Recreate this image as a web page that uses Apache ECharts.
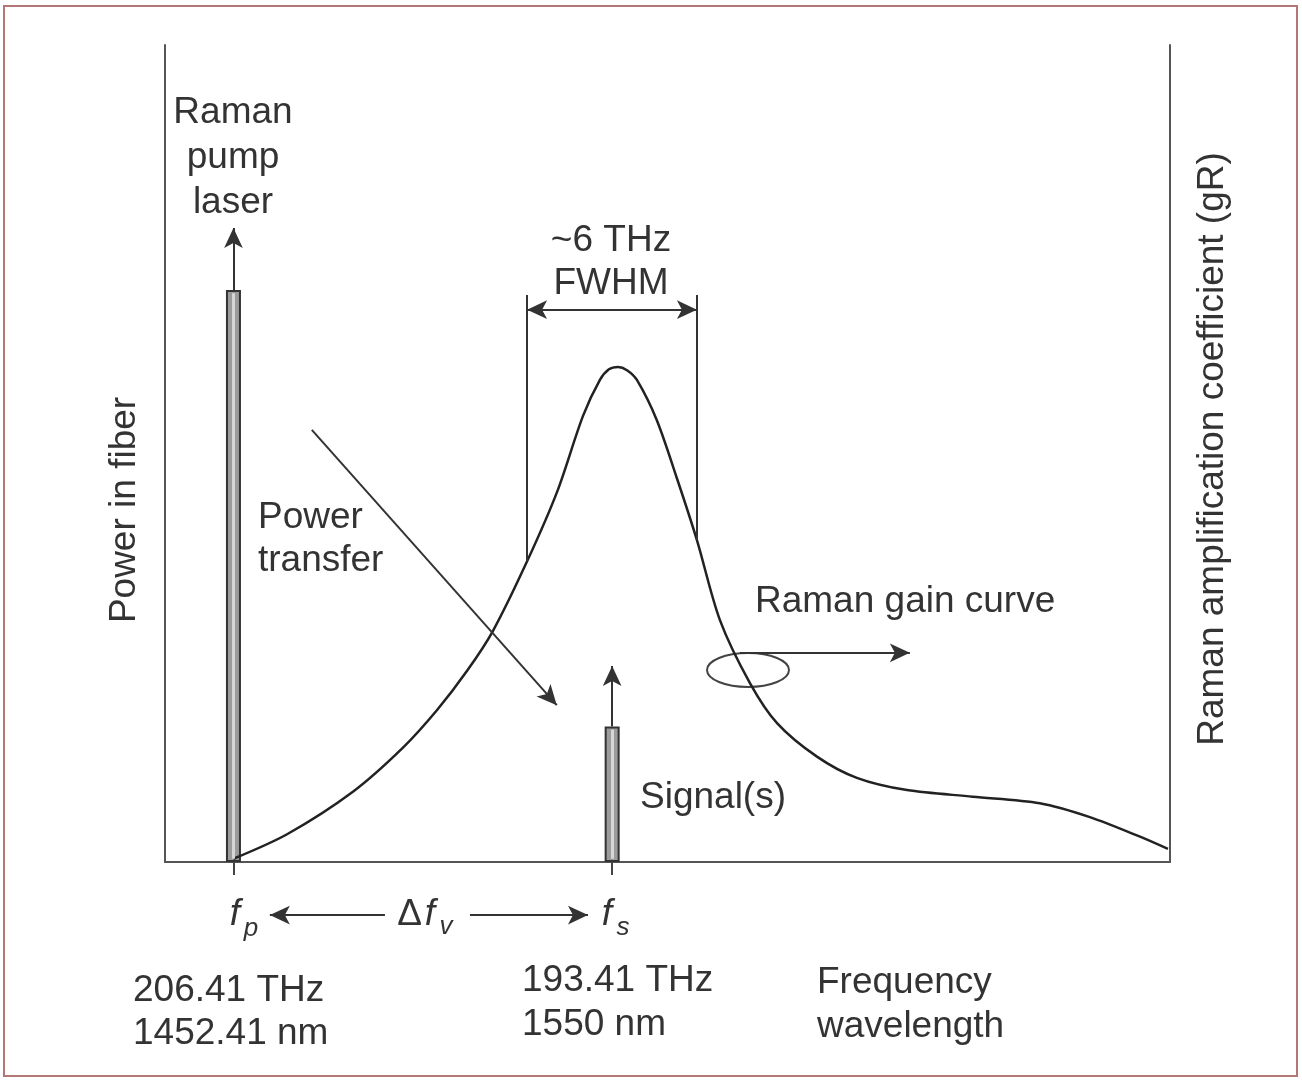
<!DOCTYPE html>
<html lang="en">
<head>
    <meta charset="UTF-8">
    <title>Raman gain</title>
    <script src="https://cdn.jsdelivr.net/npm/echarts@6/dist/echarts.min.js"></script>
    <style>
        *{
            margin: 0;
            padding: 0;
        }
        body,html{
            width: 100%;
            height: 100%;
            overflow: hidden;
            background: #fff;
        }
        .box{
            width: 1302px;
            height: 1080px;
        }
    </style>
</head>
<body>
<div class="box"></div>
<script>
    // frequency shift from the pump (THz) and gain level (arbitrary units)
    const gainShift = [0, 1.84, 4.10, 5.82, 6.99, 8.02, 8.91, 10.08, 11.11, 12.0, 12.58, 12.89, 13.2, 13.51, 13.85,
        14.53, 15.22, 15.91, 16.70, 17.73, 18.66, 20.03, 21.40, 23.12, 25.38, 27.68, 29.40, 31.12, 32.08];
    const gainLevel = [0.4, 3.4, 8.6, 14.0, 18.6, 23.4, 28.3, 36.8, 45.3, 54.6, 59.0, 60.3, 60.6, 60.2, 59.0,
        54.1, 47.0, 39.4, 29.6, 21.9, 17.0, 12.9, 10.3, 8.8, 8.0, 7.2, 5.5, 3.1, 1.6];

    // pump and signal lines
    const lineShift = [0, 13];
    const linePower = [70, 16.6];
    const arrowTip = [77.6, 24.0];

    // FWHM markers
    const fwhmShift = [10.08, 15.91];
    const fwhmFoot = [36.8, 39.4];
    const fwhmTop = 69.4;
    const fwhmArrow = 67.6;

    // other arrows: [from, to]
    const transferArrow = [[2.69, 52.9], [11.1, 19.2]];
    const gainPointer = [[17.39, 25.6], [23.22, 25.6]];
    // below the axis (lower strip, depth in the same units)
    const deltaArrows = [[[5.2, -6.5], [1.25, -6.5]], [[8.12, -6.5], [12.17, -6.5]]];

    const font = '"Liberation Sans", Arial, Helvetica, sans-serif';
    const ink = '#333';

    let myChart = echarts.init(document.querySelector('.box'));

    let curve = gainShift.map((x, i) => [x, gainLevel[i]]);
    let bars = lineShift.map((x, i) => [x, linePower[i]]);

    function seg(a, b, s1, s2) {
        return [
            {coord: a, symbol: s1 || 'none'},
            {coord: b, symbol: s2 || 'arrow'}
        ];
    }

    let arrows = [];
    lineShift.forEach((x, i) => arrows.push(seg([x, linePower[i]], [x, arrowTip[i]])));
    arrows.push(seg(transferArrow[0], transferArrow[1]));
    arrows.push(seg(gainPointer[0], gainPointer[1]));
    arrows.push(seg([fwhmShift[0], fwhmArrow], [fwhmShift[1], fwhmArrow], 'arrow', 'arrow'));
    fwhmShift.forEach((x, i) => arrows.push(seg([x, fwhmTop], [x, fwhmFoot[i]], 'none', 'none')));

    let lowArrows = deltaArrows.map(a => seg(a[0], a[1]));

    // light stripe down the middle of each bar
    let stripes = lineShift.map((x, i) => seg([x, 0.4], [x, linePower[i] - 0.4], 'none', 'none'));

    function txt(x, y, text, opt) {
        return Object.assign({
            type: 'text', x: x, y: y, silent: true,
            style: Object.assign({
                text: text, fill: ink, font: '37px ' + font,
                textAlign: 'left', textVerticalAlign: 'middle', lineHeight: 44
            }, opt && opt.style)
        }, opt && opt.el);
    }
    const ital = 'italic 37px ' + font;
    const sub = 'italic 26px ' + font;

    const axisLine = {show: true, onZero: false, lineStyle: {color: '#555', width: 2}};
    const arrowLine = {color: '#333', width: 2, type: 'solid'};

    let option = {
        backgroundColor: '#fff',
        animation: false,
        grid: [
            {left: 165, right: 132, top: 45, bottom: 218},
            {left: 165, right: 132, top: 862, bottom: 0}
        ],
        xAxis: [{
            type: 'value', min: -2.35, max: 32.15, gridIndex: 0,
            axisLine: axisLine,
            axisTick: {show: true, customValues: lineShift, length: 13, lineStyle: {color: '#444', width: 2}},
            axisLabel: {show: false},
            splitLine: {show: false}
        }, {
            type: 'value', min: -2.35, max: 32.15, gridIndex: 1, show: false
        }],
        yAxis: [{
            type: 'value', min: 0, max: 100, position: 'left', gridIndex: 0,
            axisLine: axisLine,
            axisTick: {show: false}, axisLabel: {show: false}, splitLine: {show: false}
        }, {
            type: 'value', min: 0, max: 100, position: 'right', gridIndex: 0,
            axisLine: axisLine,
            axisTick: {show: false}, axisLabel: {show: false}, splitLine: {show: false}
        }, {
            type: 'value', min: -26.68, max: 0, gridIndex: 1, show: false
        }],
        series: [{
            name: 'lines',
            type: 'bar',
            data: bars,
            barWidth: 15,
            itemStyle: {color: '#9b9b9b', borderColor: '#333', borderWidth: 2},
            silent: true
        }, {
            name: 'stripes',
            type: 'line',
            data: [],
            clip: false,
            markLine: {
                silent: true, animation: false,
                label: {show: false},
                lineStyle: {color: '#d6d6d6', width: 3, type: 'solid'},
                data: stripes
            }
        }, {
            name: 'Raman gain curve',
            type: 'line',
            data: curve,
            smooth: 0.3,
            symbol: 'none',
            lineStyle: {color: '#222', width: 2.5},
            silent: true,
            z: 3
        }, {
            name: 'arrows',
            type: 'line',
            data: [],
            clip: false,
            markLine: {
                silent: true, animation: false,
                symbolSize: [14, 20],
                label: {show: false},
                lineStyle: arrowLine,
                emphasis: {disabled: true},
                data: arrows
            }
        }, {
            name: 'delta',
            type: 'line',
            xAxisIndex: 1,
            yAxisIndex: 2,
            data: [],
            clip: false,
            markLine: {
                silent: true, animation: false,
                symbolSize: [14, 20],
                label: {show: false},
                lineStyle: arrowLine,
                emphasis: {disabled: true},
                data: lowArrows
            }
        }],
        graphic: [
            {
                type: 'rect', silent: true,
                shape: {x: 4, y: 6, width: 1293, height: 1070},
                style: {fill: 'none', stroke: '#b27878', lineWidth: 2}
            },
            {
                type: 'ellipse', silent: true,
                shape: {cx: 748, cy: 670, rx: 41, ry: 17},
                style: {fill: 'none', stroke: '#444', lineWidth: 2}
            },
            txt(233, 158, 'Raman\npump\nlaser', {style: {textAlign: 'center', lineHeight: 45}}),
            txt(611, 262, '~6 THz\nFWHM', {style: {textAlign: 'center', lineHeight: 43}}),
            txt(258, 539, 'Power\ntransfer', {style: {lineHeight: 43}}),
            txt(755, 602, 'Raman gain curve'),
            txt(640, 798, 'Signal(s)'),
            txt(235, 915, 'f', {style: {textAlign: 'center', font: ital}}),
            txt(251, 929, 'p', {style: {textAlign: 'center', font: sub}}),
            txt(422, 915, 'Δ', {style: {textAlign: 'right'}}),
            txt(430, 915, 'f', {style: {textAlign: 'center', font: ital}}),
            txt(446, 927, 'v', {style: {textAlign: 'center', font: sub}}),
            txt(607, 915, 'f', {style: {textAlign: 'center', font: ital}}),
            txt(623, 928, 's', {style: {textAlign: 'center', font: sub}}),
            txt(133, 1012, '206.41 THz\n1452.41 nm', {style: {lineHeight: 43}}),
            txt(522, 1003, '193.41 THz\n1550 nm', {style: {lineHeight: 44}}),
            txt(817, 1005, 'Frequency\nwavelength', {style: {lineHeight: 44}}),
            txt(125, 510, 'Power in fiber', {style: {textAlign: 'center'}, el: {rotation: Math.PI / 2}}),
            txt(1213, 449, 'Raman amplification coefficient (gR)', {style: {textAlign: 'center'}, el: {rotation: Math.PI / 2}})
        ]
    };

    myChart.setOption(option);
</script>
</body>
</html>
